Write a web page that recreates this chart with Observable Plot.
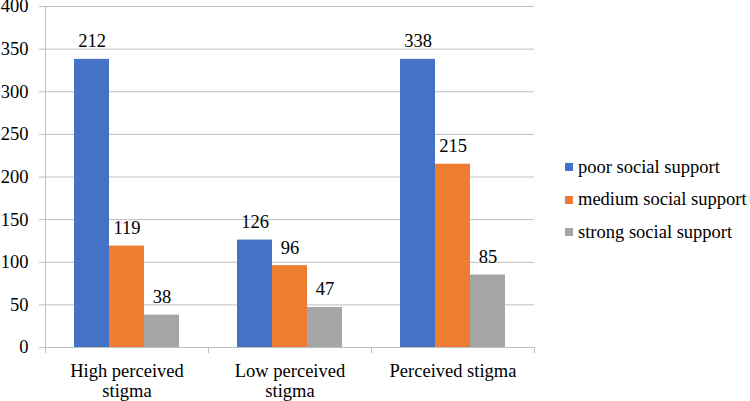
<!DOCTYPE html>
<html><head><meta charset="utf-8">
<script src="https://cdn.jsdelivr.net/npm/d3@7"></script>
<script src="https://cdn.jsdelivr.net/npm/@observablehq/plot@0.6"></script>
</head><body style="margin:0;background:#fff;font-family:'Liberation Serif'">
<div id="wrap" style="position:relative;width:750px;height:401px;font-family:'Liberation Serif';color:#000"></div>
<script>
const categories = ["High perceived stigma", "Low perceived stigma", "Perceived stigma"];
const categoryLabels = ["High perceived\nstigma", "Low perceived\nstigma", "Perceived stigma"];
const seriesNames = ["poor social support", "medium social support", "strong social support"];
const colors = ["#4472C4", "#ED7D31", "#A5A5A5"];
// bar heights as drawn
const poorValues = [338, 126, 338];
const mediumValues = [119, 96, 215];
const strongValues = [38, 47, 85];
// data labels as printed
const poorLabels = [212, 126, 338];
const mediumLabels = [119, 96, 215];
const strongLabels = [38, 47, 85];
const yTicks = [0, 50, 100, 150, 200, 250, 300, 350, 400];

const valueSets = [poorValues, mediumValues, strongValues];
const labelSets = [poorLabels, mediumLabels, strongLabels];
const rows = [];
categories.forEach((c, i) => seriesNames.forEach((s, j) => rows.push({category: c, series: s, value: valueSets[j][i], label: labelSets[j][i]})));
const labelOf = new Map(categories.map((c, i) => [c, categoryLabels[i]]));

const FONT = "'Liberation Serif'";
const gridColor = "#bfbfbf";
const plot = Plot.plot({
  width: 750, height: 401,
  marginLeft: 44, marginRight: 215, marginTop: 6, marginBottom: 54,
  style: {fontFamily: FONT, fontSize: "18.5px", color: "#000", background: "#fff", overflow: "visible"},
  fx: {domain: categories, padding: 0, label: null, axis: null},
  x: {domain: seriesNames, paddingInner: 0, paddingOuter: 0.774, axis: null},
  y: {domain: [0, 400], label: null},
  color: {domain: seriesNames, range: colors},
  marks: [
    Plot.gridY(yTicks, {stroke: gridColor, strokeOpacity: 1}),
    Plot.axisY(yTicks, {tickSize: 6, tickPadding: 11, stroke: gridColor, fill: "#000", label: null, fontSize: 18.5}),
    Plot.barY(rows, {fx: "category", x: "series", y: "value", fill: "series"}),
    Plot.text(rows, {fx: "category", x: "series", y: "value", text: "label", dy: -12, lineAnchor: "bottom", fill: "#000", fontSize: 18.5}),
    Plot.axisFx({anchor: "bottom", tickSize: 0, tickPadding: 15, tickFormat: d => labelOf.get(d), label: null, lineHeight: 1.08, fill: "#000", fontSize: 18.5})
  ]
});

// axis line and category boundary ticks, positioned via the plot's own scales
const fx = plot.scale("fx"), y = plot.scale("y");
const svg = d3.select(plot);
const y0 = y.apply(0), yTop = y.apply(400);
const bounds = categories.map(c => fx.apply(c)).concat([fx.apply(categories[categories.length - 1]) + fx.bandwidth]);
const g = svg.append("g").attr("stroke", gridColor).attr("stroke-width", 1);
g.append("line").attr("x1", bounds[0] + 0.5).attr("x2", bounds[0] + 0.5).attr("y1", yTop).attr("y2", y0);
bounds.forEach(b => g.append("line").attr("x1", b + 0.5).attr("x2", b + 0.5).attr("y1", y0).attr("y2", y0 + 6));

// force the serif face inline on every text element
svg.attr("font-family", "Liberation Serif");
svg.selectAll("g").attr("font-family", "Liberation Serif");
svg.selectAll("text, tspan").attr("font-family", "Liberation Serif").style("font-family", "'Liberation Serif'", "important");

const wrap = document.getElementById("wrap");
wrap.appendChild(plot);
const legend = document.createElement("div");
legend.setAttribute("style", "position:absolute;left:565px;top:151px;font-size:18.5px;font-family:'Liberation Serif'");
seriesNames.forEach((s, i) => {
  const item = document.createElement("div");
  item.setAttribute("style", "display:flex;align-items:center;height:32.5px;white-space:nowrap;font-family:'Liberation Serif'");
  const sw = document.createElement("span");
  sw.setAttribute("style", "width:8px;height:8px;margin-right:5px;flex:none;background:" + colors[i]);
  const t = document.createElement("span");
  t.setAttribute("style", "font-family:'Liberation Serif'");
  t.textContent = s;
  item.appendChild(sw); item.appendChild(t);
  legend.appendChild(item);
});
wrap.appendChild(legend);
</script>
</body></html>
